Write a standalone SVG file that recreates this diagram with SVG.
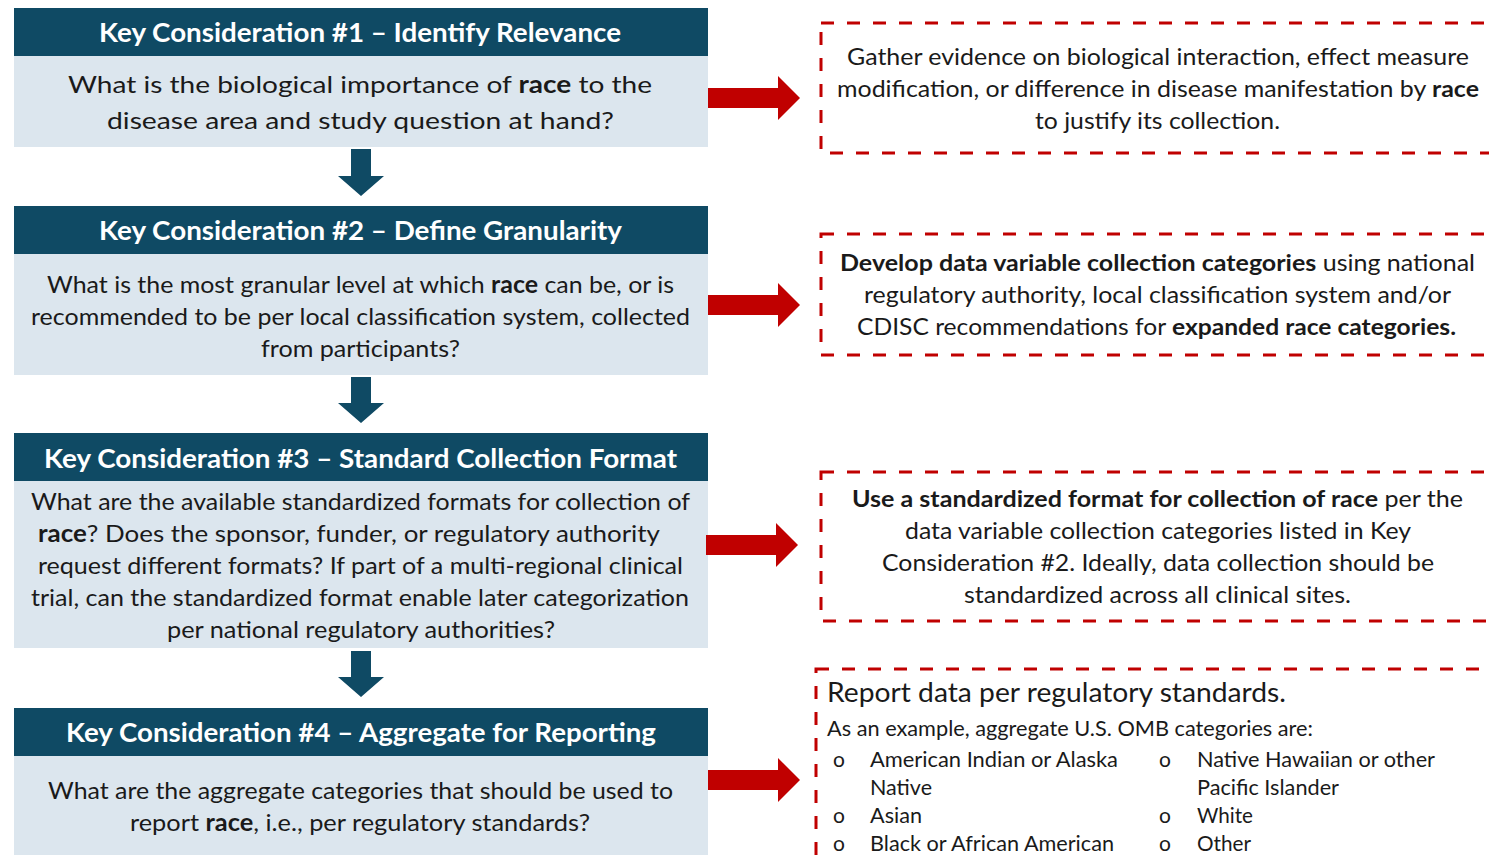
<svg xmlns="http://www.w3.org/2000/svg" width="1489" height="861" viewBox="0 0 1489 861">
<defs>
<style>
.hdr{fill:#0f4a64}
.body{fill:#dce6ee}
.ht{font-family:Lato,"Open Sans",sans-serif;font-weight:bold;font-size:27px;fill:#ffffff}
.bt{font-family:Lato,"Open Sans",sans-serif;font-size:24px;fill:#1a1a1a}
.rt{font-family:Lato,"Open Sans",sans-serif;font-size:23px;fill:#1a1a1a}
.st{font-family:Lato,"Open Sans",sans-serif;font-size:21px;fill:#1a1a1a}
.b{font-weight:bold}
.dash{fill:#ffffff;stroke:#c00000;stroke-width:3;stroke-dasharray:13 13}
.darr{fill:#0f4a64}
.rarr{fill:#c00000}
</style>
</defs>
<rect width="1489" height="861" fill="#ffffff"/>

<g id="kc1">
<rect class="body" x="14" y="56" width="694" height="91"/>
<rect class="hdr" x="14" y="8" width="694" height="48"/>
<text class="ht" x="99" y="42" textLength="522" lengthAdjust="spacingAndGlyphs">Key Consideration #1 – Identify Relevance</text>
<text class="bt" x="68" y="93" textLength="584" lengthAdjust="spacingAndGlyphs">What is the biological importance of <tspan class="b">race</tspan> to the</text>
<text class="bt" x="107" y="129" textLength="507" lengthAdjust="spacingAndGlyphs">disease area and study question at hand?</text>
</g>

<g id="kc2">
<rect class="body" x="14" y="254" width="694" height="121"/>
<rect class="hdr" x="14" y="206" width="694" height="48"/>
<text class="ht" x="99" y="240" textLength="523" lengthAdjust="spacingAndGlyphs">Key Consideration #2 – Define Granularity</text>
<text class="bt" x="47" y="293" textLength="627" lengthAdjust="spacingAndGlyphs">What is the most granular level at which <tspan class="b">race</tspan> can be, or is</text>
<text class="bt" x="31" y="325" textLength="659" lengthAdjust="spacingAndGlyphs">recommended to be per local classification system, collected</text>
<text class="bt" x="261" y="357" textLength="199" lengthAdjust="spacingAndGlyphs">from participants?</text>
</g>

<g id="kc3">
<rect class="body" x="14" y="481" width="694" height="167"/>
<rect class="hdr" x="14" y="433" width="694" height="48"/>
<text class="ht" x="44" y="468" textLength="633" lengthAdjust="spacingAndGlyphs">Key Consideration #3 – Standard Collection Format</text>
<text class="bt" x="31" y="510" textLength="659" lengthAdjust="spacingAndGlyphs">What are the available standardized formats for collection of</text>
<text class="bt" x="38" y="542" textLength="622" lengthAdjust="spacingAndGlyphs"><tspan class="b">race</tspan>? Does the sponsor, funder, or regulatory authority</text>
<text class="bt" x="38" y="574" textLength="645" lengthAdjust="spacingAndGlyphs">request different formats? If part of a multi-regional clinical</text>
<text class="bt" x="31" y="606" textLength="658" lengthAdjust="spacingAndGlyphs">trial, can the standardized format enable later categorization</text>
<text class="bt" x="167" y="638" textLength="388" lengthAdjust="spacingAndGlyphs">per national regulatory authorities?</text>
</g>

<g id="kc4">
<rect class="body" x="14" y="756" width="694" height="99"/>
<rect class="hdr" x="14" y="708" width="694" height="48"/>
<text class="ht" x="66" y="742" textLength="590" lengthAdjust="spacingAndGlyphs">Key Consideration #4 – Aggregate for Reporting</text>
<text class="bt" x="48" y="799" textLength="625" lengthAdjust="spacingAndGlyphs">What are the aggregate categories that should be used to</text>
<text class="bt" x="130" y="831" textLength="460" lengthAdjust="spacingAndGlyphs">report <tspan class="b">race</tspan>, i.e., per regulatory standards?</text>
</g>

<g id="act1">
<rect class="dash" x="821" y="23" width="700" height="130"/>
<text class="rt" x="847" y="65" textLength="622" lengthAdjust="spacingAndGlyphs">Gather evidence on biological interaction, effect measure</text>
<text class="rt" x="837" y="97" textLength="642" lengthAdjust="spacingAndGlyphs">modification, or difference in disease manifestation by <tspan class="b">race</tspan></text>
<text class="rt" x="1035" y="129" textLength="245" lengthAdjust="spacingAndGlyphs">to justify its collection.</text>
</g>

<g id="act2">
<rect class="dash" x="821" y="234" width="700" height="121"/>
<text class="rt" x="840" y="271" textLength="635" lengthAdjust="spacingAndGlyphs"><tspan class="b">Develop data variable collection categories</tspan> using national</text>
<text class="rt" x="864" y="303" textLength="587" lengthAdjust="spacingAndGlyphs">regulatory authority, local classification system and/or</text>
<text class="rt" x="857" y="335" textLength="599" lengthAdjust="spacingAndGlyphs">CDISC recommendations for <tspan class="b">expanded race categories.</tspan></text>
</g>

<g id="act3">
<rect class="dash" x="821" y="472" width="700" height="149"/>
<text class="rt" x="852" y="507" textLength="611" lengthAdjust="spacingAndGlyphs"><tspan class="b">Use a standardized format for collection of race</tspan> per the</text>
<text class="rt" x="905" y="539" textLength="506" lengthAdjust="spacingAndGlyphs">data variable collection categories listed in Key</text>
<text class="rt" x="882" y="571" textLength="552" lengthAdjust="spacingAndGlyphs">Consideration #2. Ideally, data collection should be</text>
<text class="rt" x="964" y="603" textLength="387" lengthAdjust="spacingAndGlyphs">standardized across all clinical sites.</text>
</g>

<g id="act4">
<rect class="dash" x="816" y="669" width="705" height="220"/>
<text class="bt" x="827" y="702" textLength="459" lengthAdjust="spacingAndGlyphs" style="font-size:26px">Report data per regulatory standards.</text>
<text class="st" x="827" y="736" textLength="486" lengthAdjust="spacingAndGlyphs">As an example, aggregate U.S. OMB categories are:</text>
<g class="st">
<text class="st" x="833" y="767">o</text>
<text class="st" x="870" y="767" textLength="248" lengthAdjust="spacingAndGlyphs">American Indian or Alaska</text>
<text class="st" x="870" y="795" textLength="62" lengthAdjust="spacingAndGlyphs">Native</text>
<text class="st" x="833" y="823">o</text>
<text class="st" x="870" y="823" textLength="52" lengthAdjust="spacingAndGlyphs">Asian</text>
<text class="st" x="833" y="851">o</text>
<text class="st" x="870" y="851" textLength="244" lengthAdjust="spacingAndGlyphs">Black or African American</text>
<text class="st" x="1159" y="767">o</text>
<text class="st" x="1197" y="767" textLength="238" lengthAdjust="spacingAndGlyphs">Native Hawaiian or other</text>
<text class="st" x="1197" y="795" textLength="142" lengthAdjust="spacingAndGlyphs">Pacific Islander</text>
<text class="st" x="1159" y="823">o</text>
<text class="st" x="1197" y="823" textLength="56" lengthAdjust="spacingAndGlyphs">White</text>
<text class="st" x="1159" y="851">o</text>
<text class="st" x="1197" y="851" textLength="54" lengthAdjust="spacingAndGlyphs">Other</text>
</g>
</g>

<g id="connectors">
<polygon class="darr" points="351,149 371,149 371,176 384,176 361,196 338,176 351,176"/>
<polygon class="darr" points="351,377 371,377 371,403 384,403 361,423 338,403 351,403"/>
<polygon class="darr" points="351,651 371,651 371,677 384,677 361,697 338,677 351,677"/>
<polygon class="rarr" points="708,88 778,88 778,76 800,98 778,120 778,108 708,108"/>
<polygon class="rarr" points="708,295 778,295 778,283 800,305 778,327 778,315 708,315"/>
<polygon class="rarr" points="706,535 776,535 776,523 798,545 776,567 776,555 706,555"/>
<polygon class="rarr" points="708,770 778,770 778,758 800,780 778,802 778,790 708,790"/>
</g>
</svg>
